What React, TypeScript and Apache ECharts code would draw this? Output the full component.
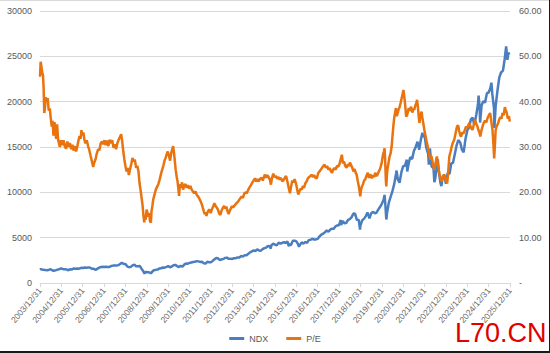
import React, { useEffect, useRef } from "react";
import * as echarts from "echarts";

// x values are fractional years (2004.0 = 2003/12/31)
const xTickLabels = [
  "2003/12/31", "2004/12/31", "2005/12/31", "2006/12/31", "2007/12/31", "2008/12/31",
  "2009/12/31", "2010/12/31", "2011/12/31", "2012/12/31", "2013/12/31", "2014/12/31",
  "2015/12/31", "2016/12/31", "2017/12/31", "2018/12/31", "2019/12/31", "2020/12/31",
  "2021/12/31", "2022/12/31", "2023/12/31", "2024/12/31", "2025/12/31",
];

const ndxT = [
  2004.00, 2004.04, 2004.08, 2004.17, 2004.25, 2004.33, 2004.42, 2004.50, 2004.58, 2004.62, 2004.67, 2004.75, 2004.83, 2004.92,
  2005.00, 2005.08, 2005.17, 2005.25, 2005.30, 2005.33, 2005.42, 2005.50, 2005.58, 2005.67, 2005.75, 2005.83, 2005.92,
  2006.00, 2006.08, 2006.17, 2006.25, 2006.33, 2006.42, 2006.50, 2006.58, 2006.62, 2006.67, 2006.75, 2006.83, 2006.92,
  2007.00, 2007.08, 2007.17, 2007.25, 2007.33, 2007.42, 2007.50, 2007.58, 2007.67, 2007.75, 2007.83, 2007.92,
  2008.00, 2008.08, 2008.17, 2008.25, 2008.33, 2008.42, 2008.50, 2008.58, 2008.67, 2008.75, 2008.83, 2008.89, 2008.92,
  2009.00, 2009.08, 2009.17, 2009.19, 2009.25, 2009.33, 2009.42, 2009.50, 2009.58, 2009.67, 2009.75, 2009.83, 2009.92,
  2010.00, 2010.08, 2010.17, 2010.25, 2010.33, 2010.42, 2010.50, 2010.58, 2010.67, 2010.75, 2010.83, 2010.92,
  2011.00, 2011.08, 2011.17, 2011.25, 2011.33, 2011.42, 2011.50, 2011.58, 2011.67, 2011.75, 2011.83, 2011.92,
  2012.00, 2012.08, 2012.17, 2012.25, 2012.33, 2012.42, 2012.50, 2012.58, 2012.67, 2012.75, 2012.83, 2012.92,
  2013.00, 2013.08, 2013.17, 2013.25, 2013.33, 2013.42, 2013.50, 2013.58, 2013.67, 2013.75, 2013.83, 2013.92,
  2014.00, 2014.08, 2014.17, 2014.25, 2014.33, 2014.42, 2014.50, 2014.58, 2014.67, 2014.75, 2014.80, 2014.83, 2014.92,
  2015.00, 2015.08, 2015.17, 2015.25, 2015.33, 2015.42, 2015.50, 2015.58, 2015.65, 2015.67, 2015.75, 2015.83, 2015.92,
  2016.00, 2016.08, 2016.12, 2016.17, 2016.25, 2016.33, 2016.42, 2016.50, 2016.58, 2016.67, 2016.75, 2016.83, 2016.92,
  2017.00, 2017.08, 2017.17, 2017.25, 2017.33, 2017.42, 2017.50, 2017.58, 2017.67, 2017.75, 2017.83, 2017.92,
  2018.00, 2018.08, 2018.10, 2018.17, 2018.25, 2018.33, 2018.42, 2018.50, 2018.58, 2018.67, 2018.75, 2018.83, 2018.92, 2018.98,
  2019.00, 2019.08, 2019.17, 2019.25, 2019.33, 2019.42, 2019.50, 2019.58, 2019.67, 2019.75, 2019.83, 2019.92,
  2020.00, 2020.08, 2020.13, 2020.17, 2020.21, 2020.25, 2020.33, 2020.42, 2020.50, 2020.58, 2020.67, 2020.69, 2020.75, 2020.83, 2020.92,
  2021.00, 2021.08, 2021.17, 2021.19, 2021.25, 2021.33, 2021.42, 2021.50, 2021.58, 2021.67, 2021.75, 2021.83, 2021.90, 2021.92,
  2022.00, 2022.08, 2022.17, 2022.20, 2022.25, 2022.33, 2022.42, 2022.46, 2022.50, 2022.58, 2022.62, 2022.67, 2022.75, 2022.79, 2022.83, 2022.92,
  2023.00, 2023.08, 2023.17, 2023.25, 2023.33, 2023.42, 2023.50, 2023.58, 2023.67, 2023.75, 2023.83, 2023.92,
  2024.00, 2024.08, 2024.17, 2024.25, 2024.33, 2024.42, 2024.50, 2024.53, 2024.58, 2024.60, 2024.67, 2024.75, 2024.83, 2024.92,
  2025.00, 2025.08, 2025.13, 2025.17, 2025.25, 2025.27, 2025.33, 2025.42, 2025.50, 2025.58, 2025.67, 2025.75, 2025.82, 2025.88, 2025.92, 2025.97,
];
const ndxV = [
  1468, 1530, 1494, 1468, 1438, 1411, 1466, 1517, 1401, 1340, 1374, 1413, 1478, 1543,
  1621, 1519, 1507, 1483, 1410, 1401, 1519, 1493, 1605, 1584, 1601, 1579, 1680,
  1645, 1712, 1676, 1703, 1706, 1585, 1575, 1489, 1450, 1567, 1655, 1747, 1792,
  1757, 1791, 1756, 1772, 1868, 1920, 1934, 1925, 1970, 2091, 2239, 2088,
  2085, 1845, 1737, 1781, 1949, 2032, 1837, 1854, 1872, 1581, 1329, 1036, 1175,
  1212, 1188, 1113, 1043, 1237, 1400, 1449, 1477, 1589, 1619, 1712, 1695, 1779,
  1860, 1742, 1819, 1957, 2000, 1858, 1764, 1887, 1796, 2027, 2150, 2135,
  2218, 2266, 2318, 2339, 2412, 2386, 2325, 2343, 2181, 2142, 2341, 2292,
  2278, 2436, 2625, 2755, 2723, 2520, 2616, 2648, 2772, 2800, 2661, 2677,
  2660, 2732, 2739, 2819, 2824, 2988, 2910, 3073, 3073, 3218, 3382, 3487,
  3592, 3526, 3700, 3596, 3563, 3737, 3850, 3897, 4083, 4050, 3790, 4158, 4335,
  4236, 4151, 4446, 4334, 4414, 4509, 4397, 4589, 4040, 4275, 4181, 4648, 4665,
  4593, 4280, 4000, 4201, 4483, 4341, 4523, 4418, 4731, 4772, 4875, 4801, 4810,
  4864, 5132, 5331, 5436, 5584, 5788, 5647, 5880, 5989, 5979, 6248, 6344,
  6396, 6949, 6400, 6855, 6581, 6605, 6967, 7040, 7232, 7655, 7628, 6967, 6949, 5900,
  6330, 6907, 7103, 7378, 7781, 7127, 7672, 7848, 7692, 7749, 8084, 8403,
  8733, 9151, 9718, 8462, 7000, 7813, 8890, 9555, 10157, 10905, 12111, 12400, 11418, 11053, 12269,
  12888, 12925, 13600, 12300, 13091, 13861, 13686, 14554, 14959, 15583, 14690, 15850, 16573, 16135,
  16320, 14930, 14238, 13050, 14838, 12855, 12643, 11128, 11504, 12948, 13650, 12272, 10971, 10690, 11406, 11951,
  10939, 12102, 12043, 13182, 13246, 14254, 15179, 15758, 15502, 14715, 14410, 15948,
  16826, 17137, 18044, 18254, 17441, 18537, 19683, 20675, 19363, 17700, 19575, 20061, 19890, 20930,
  21012, 21478, 22100, 20885, 19279, 17090, 19571, 21340, 22679, 23218, 23415, 24680, 26100, 24600, 25400, 25200,
];

const peT = [
  2004.00, 2004.03, 2004.06, 2004.10, 2004.14, 2004.17, 2004.20, 2004.23, 2004.27, 2004.31, 2004.36, 2004.41, 2004.46, 2004.50,
  2004.55, 2004.59, 2004.63, 2004.68, 2004.72, 2004.76, 2004.80, 2004.85, 2004.89, 2004.93, 2004.98,
  2005.04, 2005.10, 2005.16, 2005.22, 2005.28, 2005.34, 2005.40, 2005.46, 2005.52, 2005.57, 2005.63, 2005.69, 2005.75,
  2005.80, 2005.85, 2005.90, 2005.94, 2005.98,
  2006.03, 2006.08, 2006.13, 2006.19, 2006.25, 2006.31, 2006.37, 2006.43, 2006.49, 2006.54, 2006.60, 2006.66, 2006.72,
  2006.78, 2006.84, 2006.90, 2006.96,
  2007.02, 2007.08, 2007.14, 2007.20, 2007.26, 2007.32, 2007.38, 2007.44, 2007.50, 2007.56, 2007.62, 2007.68, 2007.74,
  2007.80, 2007.85, 2007.90, 2007.95,
  2008.00, 2008.05, 2008.10, 2008.16, 2008.22, 2008.28, 2008.33, 2008.38, 2008.44, 2008.50, 2008.56, 2008.61, 2008.66,
  2008.71, 2008.76, 2008.80, 2008.84, 2008.88, 2008.91, 2008.95, 2008.99,
  2009.03, 2009.07, 2009.11, 2009.15, 2009.19, 2009.22, 2009.26, 2009.30, 2009.36, 2009.42, 2009.48, 2009.54, 2009.60,
  2009.66, 2009.72, 2009.77, 2009.83, 2009.88, 2009.93, 2009.98,
  2010.04, 2010.09, 2010.14, 2010.19, 2010.23, 2010.27, 2010.31, 2010.35, 2010.40, 2010.44, 2010.48, 2010.51, 2010.55,
  2010.60, 2010.65, 2010.70, 2010.75, 2010.81, 2010.86, 2010.92, 2010.98,
  2011.04, 2011.10, 2011.16, 2011.22, 2011.28, 2011.34, 2011.40, 2011.46, 2011.52, 2011.57, 2011.62, 2011.67, 2011.71,
  2011.75, 2011.79, 2011.84, 2011.89, 2011.94, 2011.99,
  2012.04, 2012.10, 2012.16, 2012.22, 2012.28, 2012.33, 2012.38, 2012.44, 2012.50, 2012.56, 2012.62, 2012.67, 2012.73,
  2012.78, 2012.83, 2012.88, 2012.93, 2012.98,
  2013.05, 2013.12, 2013.20, 2013.28, 2013.36, 2013.44, 2013.50, 2013.56, 2013.62, 2013.68, 2013.75, 2013.82, 2013.88, 2013.94,
  2014.00, 2014.06, 2014.12, 2014.18, 2014.24, 2014.30, 2014.37, 2014.43, 2014.48, 2014.53, 2014.58, 2014.64, 2014.70,
  2014.76, 2014.81, 2014.86, 2014.92, 2014.98,
  2015.04, 2015.10, 2015.16, 2015.22, 2015.28, 2015.34, 2015.40, 2015.46, 2015.52, 2015.58, 2015.64, 2015.70, 2015.75,
  2015.81, 2015.86, 2015.92, 2015.98,
  2016.04, 2016.09, 2016.14, 2016.20, 2016.25, 2016.31, 2016.36, 2016.42, 2016.48, 2016.54, 2016.60, 2016.66, 2016.71,
  2016.77, 2016.83, 2016.89, 2016.96,
  2017.02, 2017.08, 2017.14, 2017.20, 2017.26, 2017.32, 2017.38, 2017.44, 2017.50, 2017.56, 2017.62, 2017.67, 2017.72,
  2017.78, 2017.84, 2017.90, 2017.97,
  2018.03, 2018.08, 2018.13, 2018.18, 2018.23, 2018.29, 2018.35, 2018.41, 2018.46, 2018.51, 2018.56, 2018.62, 2018.67,
  2018.72, 2018.77, 2018.82, 2018.87, 2018.92, 2018.96, 2018.99,
  2019.03, 2019.07, 2019.12, 2019.17, 2019.22, 2019.28, 2019.34, 2019.40, 2019.46, 2019.53, 2019.59, 2019.65, 2019.69,
  2019.75, 2019.80, 2019.86, 2019.92, 2019.99,
  2020.05, 2020.10, 2020.13, 2020.16, 2020.19, 2020.21, 2020.24, 2020.28, 2020.31, 2020.36, 2020.41, 2020.46, 2020.50,
  2020.54, 2020.58, 2020.62, 2020.66, 2020.70, 2020.74, 2020.78, 2020.83, 2020.88, 2020.93, 2020.98,
  2021.01, 2021.05, 2021.09, 2021.14, 2021.18, 2021.21, 2021.26, 2021.31, 2021.37, 2021.43, 2021.48, 2021.52, 2021.57,
  2021.61, 2021.65, 2021.69, 2021.73, 2021.76, 2021.80, 2021.86, 2021.90, 2021.95, 2021.99,
  2022.04, 2022.09, 2022.15, 2022.21, 2022.27, 2022.32, 2022.38, 2022.43, 2022.46, 2022.51, 2022.55, 2022.58, 2022.62,
  2022.66, 2022.69, 2022.74, 2022.80, 2022.86, 2022.93, 2022.98,
  2023.03, 2023.06, 2023.10, 2023.16, 2023.22, 2023.27, 2023.33, 2023.39, 2023.45, 2023.52, 2023.57, 2023.62, 2023.67,
  2023.71, 2023.77, 2023.83, 2023.89, 2023.94,
  2024.00, 2024.05, 2024.09, 2024.15, 2024.20, 2024.25, 2024.31, 2024.36, 2024.42, 2024.47, 2024.52, 2024.58, 2024.61,
  2024.66, 2024.72, 2024.77, 2024.83, 2024.89, 2024.95,
  2025.01, 2025.07, 2025.11, 2025.15, 2025.18, 2025.22, 2025.26, 2025.29, 2025.33, 2025.38, 2025.44, 2025.49, 2025.55,
  2025.60, 2025.65, 2025.70, 2025.76, 2025.80, 2025.85, 2025.90, 2025.95, 2025.99,
];
const peV = [
  45.5, 48.8, 48.0, 46.5, 45.8, 43.0, 37.5, 38.5, 41.0, 40.0, 40.8, 38.0, 38.5, 36.5,
  34.5, 35.8, 32.5, 35.5, 33.0, 31.8, 35.0, 31.5, 30.8, 30.0, 31.5,
  30.4, 31.5, 30.2, 29.6, 31.2, 30.0, 30.9, 29.5, 30.5, 29.2, 30.2, 29.0, 30.2,
  31.4, 32.4, 31.8, 33.7, 32.6,
  33.2, 31.5, 30.8, 31.5, 30.2, 29.3, 28.0, 26.8, 25.6, 26.6, 27.3, 28.6, 29.5,
  29.3, 30.8, 31.2, 30.6,
  31.5, 30.4, 31.4, 30.2, 31.6, 30.8, 31.5, 29.8, 30.6, 29.5, 30.8, 31.6, 32.2,
  32.8, 31.2, 29.0, 27.2,
  25.8, 24.6, 25.4, 23.8, 25.2, 26.4, 27.6, 26.8, 27.2, 25.4, 25.8, 24.6, 22.0,
  20.4, 18.6, 17.2, 15.0, 13.4, 14.8, 14.0, 16.2,
  15.5, 14.6, 15.4, 13.6, 13.3, 15.8, 17.0, 18.4, 19.5, 20.6, 21.2, 21.8, 22.8,
  24.0, 25.0, 25.8, 27.0, 27.6, 28.4, 29.0,
  28.0, 27.0, 28.6, 29.5, 30.2, 28.8, 27.0, 25.0, 23.4, 22.4, 20.6, 19.2, 21.8,
  21.0, 22.2, 20.6, 21.5, 21.8, 21.0, 21.6, 20.8,
  21.4, 20.6, 20.2, 19.8, 20.2, 19.4, 19.1, 18.6, 18.0, 17.4, 16.6, 15.8, 15.2,
  15.6, 14.8, 15.6, 16.0, 16.2, 15.4,
  16.2, 16.8, 17.6, 17.0, 16.6, 16.2, 15.4, 15.0, 16.0, 16.6, 17.0, 16.4, 16.8,
  15.8, 15.2, 15.9, 16.4, 16.9,
  16.7, 17.2, 17.6, 18.0, 18.6, 19.1, 18.8, 19.7, 20.0, 19.8, 20.6, 21.2, 21.6, 22.2,
  22.6, 23.1, 22.4, 22.9, 22.4, 23.0, 23.2, 22.6, 23.4, 23.9, 23.2, 23.8, 23.4,
  22.8, 21.7, 23.2, 24.1, 23.4,
  23.6, 23.0, 23.4, 22.8, 23.2, 22.4, 22.7, 23.2, 23.6, 22.4, 21.0, 19.8, 21.2,
  22.6, 22.2, 22.9, 22.0,
  20.6, 19.5, 20.2, 20.8, 20.6, 21.4, 21.0, 22.0, 22.4, 23.1, 23.4, 23.6, 23.9,
  23.4, 23.8, 23.2, 23.1,
  24.2, 24.6, 25.0, 25.4, 25.8, 26.1, 25.4, 25.8, 25.0, 25.4, 24.6, 24.3, 25.0,
  25.4, 25.0, 25.8, 25.7,
  26.4, 27.4, 28.3, 26.4, 26.8, 25.8, 25.4, 26.2, 25.8, 26.6, 26.0, 25.4, 24.6,
  25.2, 24.4, 23.9, 22.6, 21.4, 20.2, 19.1,
  20.6, 21.3, 21.8, 22.6, 22.8, 23.6, 24.3, 23.2, 24.0, 23.1, 23.8, 23.4, 24.3,
  23.6, 23.9, 24.6, 25.2, 26.4,
  28.2, 29.0, 29.7, 26.5, 22.6, 21.3, 24.0, 25.6, 26.4, 27.8, 28.6, 30.1, 32.4,
  34.6, 36.4, 37.5, 38.6, 36.8, 37.4, 38.2, 38.8, 39.7, 40.8, 41.8,
  42.6, 41.2, 39.4, 36.7, 37.0, 37.5, 38.6, 38.0, 38.9, 37.6, 38.4, 38.2, 39.2,
  39.6, 40.4, 38.8, 36.6, 35.3, 36.8, 37.8, 36.4, 35.0, 33.8,
  32.6, 31.4, 30.1, 28.6, 27.2, 28.0, 26.6, 25.4, 25.0, 26.2, 27.4, 27.9, 26.4,
  25.2, 24.2, 23.2, 22.4, 23.6, 23.9, 22.8,
  22.2, 22.0, 24.0, 27.9, 29.0, 30.1, 31.0, 31.6, 33.0, 34.5, 34.8, 33.6, 32.6,
  32.3, 33.2, 33.0, 33.8, 34.5,
  34.2, 34.8, 35.3, 34.6, 34.0, 33.8, 35.0, 36.0, 35.2, 34.6, 33.8, 33.0, 32.3,
  33.6, 34.6, 35.3, 35.8, 35.4, 36.4,
  37.0, 37.5, 36.2, 34.8, 33.8, 31.0, 27.5, 30.2, 33.8, 34.6, 35.2, 36.0, 36.6,
  36.2, 37.5, 37.0, 38.8, 38.2, 37.5, 36.2, 36.8, 35.6,
];

const leftTicks = { min: 0, max: 30000, interval: 5000 };
const rightTicks = { min: 0, max: 60, interval: 10 };

const FONT = "'Liberation Sans', Arial, sans-serif";

export default function App() {
  const ref = useRef<HTMLDivElement>(null);
  useEffect(() => {
    document.body.style.margin = "0";
    const chart = echarts.init(ref.current!, null, { renderer: "svg" });
    const ndxData = ndxT.map((t, i) => [t, ndxV[i]]);
    const peData = peT.map((t, i) => [t, peV[i]]);
    chart.setOption({
      animation: false,
      backgroundColor: "#ffffff",
      textStyle: { fontFamily: FONT },
      grid: { left: 40, right: 40, top: 11, bottom: 70, containLabel: false },
      legend: {
        bottom: 5,
        left: "center",
        itemWidth: 15,
        itemHeight: 3,
        itemGap: 18,
        icon: "rect",
        textStyle: { color: "#595959", fontSize: 9, fontFamily: FONT },
        data: ["NDX", "P/E"],
      },
      xAxis: {
        type: "value",
        min: 2004,
        max: 2026,
        interval: 1,
        axisLine: { show: true, lineStyle: { color: "#d9d9d9" } },
        axisTick: { show: true, length: 4, lineStyle: { color: "#d9d9d9" } },
        splitLine: { show: false },
        axisLabel: {
          rotate: 50,
          fontSize: 8.5,
          color: "#6b6b6b",
          margin: 6,
          fontFamily: FONT,
          formatter: (v: number) => xTickLabels[Math.round(v - 2004)] ?? "",
        },
      },
      yAxis: [
        {
          type: "value",
          ...leftTicks,
          axisLine: { show: false },
          axisTick: { show: false },
          splitLine: { show: true, lineStyle: { color: "#d9d9d9", width: 1 } },
          axisLabel: {
            color: "#595959",
            fontSize: 9,
            margin: 8,
            fontFamily: FONT,
            formatter: (v: number) => String(v),
          },
        },
        {
          type: "value",
          ...rightTicks,
          axisLine: { show: false },
          axisTick: { show: false },
          splitLine: { show: false },
          axisLabel: {
            color: "#595959",
            fontSize: 9,
            margin: 9,
            fontFamily: FONT,
            formatter: (v: number) => (v === 0 ? "-" : v.toFixed(2)),
          },
        },
      ],
      series: [
        {
          name: "NDX",
          type: "line",
          yAxisIndex: 0,
          data: ndxData,
          showSymbol: false,
          symbol: "none",
          lineStyle: { color: "#4a7ebf", width: 2.5 },
          itemStyle: { color: "#4a7ebf" },
        },
        {
          name: "P/E",
          type: "line",
          yAxisIndex: 1,
          data: peData,
          showSymbol: false,
          symbol: "none",
          lineStyle: { color: "#e8730f", width: 2.5 },
          itemStyle: { color: "#e8730f" },
        },
      ],
      graphic: [
        {
          type: "text",
          left: 455,
          top: 319,
          style: {
            text: "L70.CN",
            fontSize: 27,
            fontFamily: FONT,
            fill: "#e00000",
          },
        },
        { type: "line", shape: { x1: 0, y1: 0.5, x2: 550, y2: 0.5 }, style: { stroke: "#d9d9d9", lineWidth: 1 } },
        { type: "line", shape: { x1: 0, y1: 352, x2: 550, y2: 352 }, style: { stroke: "#1a1a1a", lineWidth: 2 } },
        { type: "line", shape: { x1: 549.5, y1: 0, x2: 549.5, y2: 353 }, style: { stroke: "#1a1a1a", lineWidth: 1 } },
      ],
    });
    return () => chart.dispose();
  }, []);
  return <div ref={ref} style={{ width: 550, height: 353, position: "absolute", left: 0, top: 0 }} />;
}
